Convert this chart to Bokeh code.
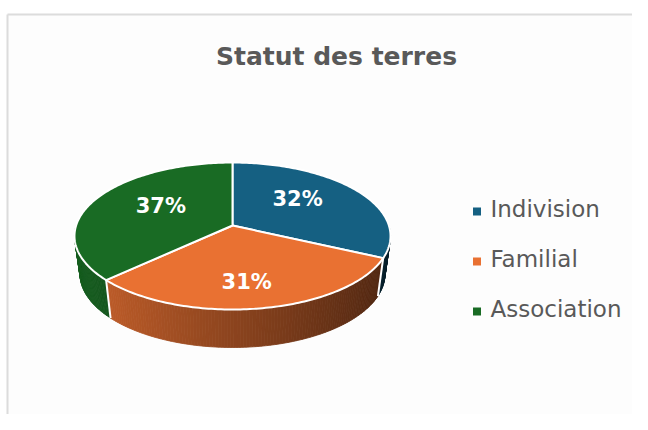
import numpy as np
from bokeh.plotting import figure
from bokeh.models import Range1d
from bokeh.core.properties import value
from bokeh.embed import file_html
from bokeh.resources import INLINE

# ---------------- data ----------------
categories = ["Indivision", "Familial", "Association"]
shares = [32, 31, 37]
colors = ["#156082", "#E97132", "#196B24"]
chart_title = "Statut des terres"

# ---------------- figure (data coords == image pixels) ----------------
W, H = 632, 414
p = figure(width=W, height=H, output_backend="svg", toolbar_location=None,
           x_range=Range1d(0, W), y_range=Range1d(H, 0),
           x_axis_location=None, y_axis_location=None, min_border=0)
p.grid.visible = False
p.outline_line_color = None
p.background_fill_color = "white"
p.border_fill_color = "white"

# card
p.quad(left=[7], right=[W], top=[14], bottom=[H],
       fill_color="#fdfdfd", line_color=None)
p.line(x=[7, 7], y=[H, 14], line_color="#dcdcdc", line_width=2)
p.line(x=[7, W], y=[14, 14], line_color="#dcdcdc", line_width=2)

# ---------------- 3D pie geometry ----------------
cx, cy0 = 232.0, 225.0
A, B, D = 156.4, 72.0, 7.0
depth = 38.0
shrink = 0.965


def proj(t, r=1.0):
    u = r * np.sin(t)
    v = -r * np.cos(t)
    s = D / (D - v)
    return cx + A * u * s, cy0 + B * v * s


def rgb(hexc, f):
    h = hexc.lstrip("#")
    c = [int(h[i:i + 2], 16) for i in (0, 2, 4)]
    c = [max(0, min(255, int(round(x * f)))) for x in c]
    return "#%02x%02x%02x" % tuple(c)


vals = np.array(shares, dtype=float)
frac = vals / vals.sum()
cum = np.concatenate([[0.0], np.cumsum(frac)]) * 2 * np.pi

# side walls (front half), drawn as thin shaded strips
sx, sy, sc = [], [], []
for i in range(len(vals)):
    lo = max(cum[i], np.pi / 2)
    hi = min(cum[i + 1], 3 * np.pi / 2)
    if hi <= lo:
        continue
    n = max(2, int(np.degrees(hi - lo)) + 1)
    ts = np.linspace(lo, hi, n)
    for a0, a1 in zip(ts[:-1], ts[1:]):
        x0, y0 = proj(a0)
        x1, y1 = proj(a1)
        bx0, bx1 = cx + shrink * (x0 - cx), cx + shrink * (x1 - cx)
        sx.append([x0, x1, bx1, bx0])
        sy.append([y0, y1, y1 + depth, y0 + depth])
        um = np.sin((a0 + a1) / 2)
        sc.append(rgb(colors[i], 0.6 - 0.28 * um))
p.patches(xs=sx, ys=sy, fill_color=sc, line_color=sc, line_width=0.8)

# white edges on the side at slice boundaries
ex0, ey0, ex1, ey1 = [], [], [], []
for i in range(len(vals)):
    t = cum[i]
    if np.pi / 2 < t < 3 * np.pi / 2:
        x, y = proj(t)
        ex0.append(x); ey0.append(y)
        ex1.append(cx + shrink * (x - cx)); ey1.append(y + depth)
p.segment(x0=ex0, y0=ey0, x1=ex1, y1=ey1, line_color="white", line_width=2)

# top faces
txs, tys = [], []
for i in range(len(vals)):
    n = max(3, int(np.degrees(cum[i + 1] - cum[i])) + 1)
    ts = np.linspace(cum[i], cum[i + 1], n)
    ax, ay = proj(ts)
    txs.append([cx] + list(ax))
    tys.append([cy0] + list(ay))
p.patches(xs=txs, ys=tys, fill_color=colors, line_color="white",
          line_width=2, line_join="round")

# percentage labels
mid = (cum[:-1] + cum[1:]) / 2
u = np.sin(mid)
v = -np.cos(mid)
s = D / (D - 0.72 * v)
lx = cx + A * 0.52 * u * s
ly = cy0 + B * 0.72 * v * s
pct = ["%d%%" % round(f * 100) for f in frac]
p.text(x=list(lx), y=list(ly), text=pct, text_color="white",
       text_font=value("DejaVu Sans"), text_font_style="bold",
       text_font_size="21px", text_align="center", text_baseline="alphabetic")

# title
p.text(x=[336], y=[56], text=[chart_title], text_color="#595959",
       text_font=value("DejaVu Sans"), text_font_style="bold",
       text_font_size="25px", text_align="center", text_baseline="alphabetic")

# legend
leg_base = [208 + 50 * i for i in range(len(categories))]
p.scatter(x=[476.5] * len(categories), y=[b + 3 for b in leg_base],
          marker="square", size=8, fill_color=colors, line_color=None)
p.text(x=[490] * len(categories), y=leg_base, text=categories,
       text_color="#595959", text_font=value("DejaVu Sans"),
       text_font_size="23px", text_align="left", text_baseline="alphabetic")

open("out.html", "w").write(file_html(p, INLINE))
